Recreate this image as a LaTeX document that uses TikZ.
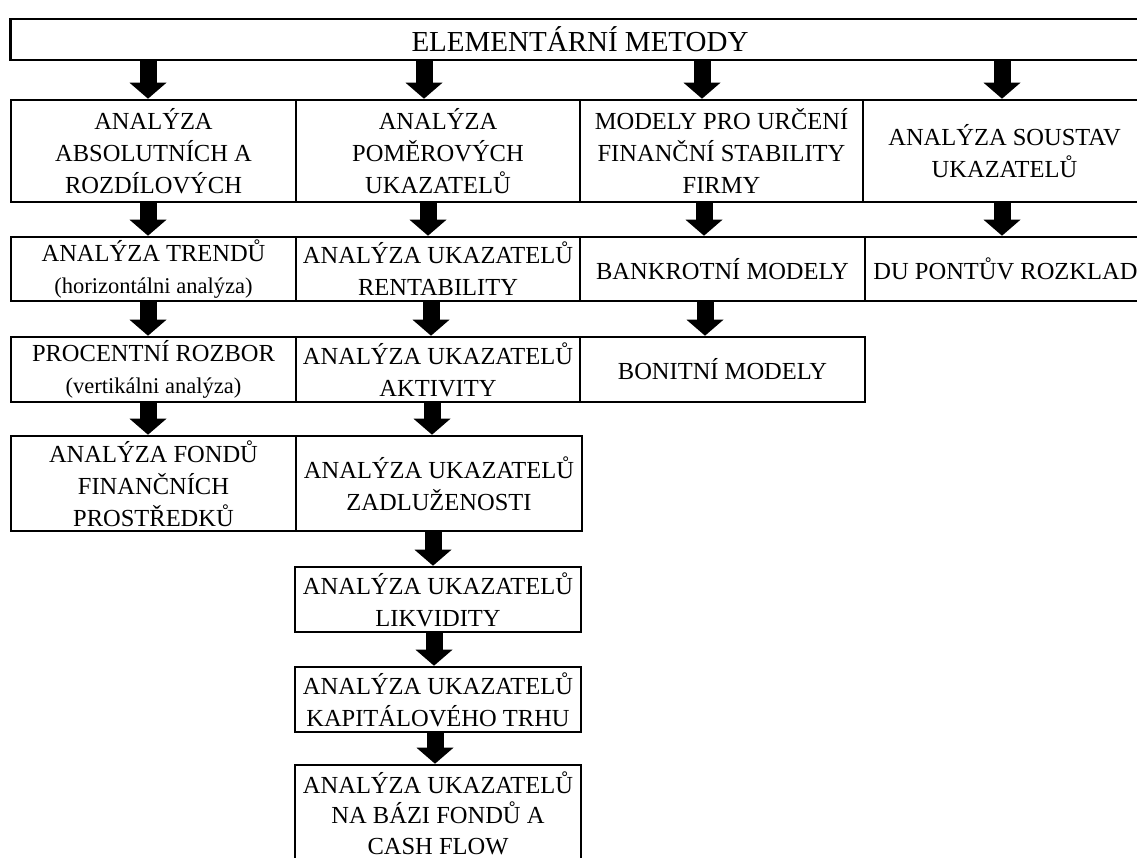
\documentclass[tikz,border=0pt]{standalone}
\usepackage{fontspec}
\setmainfont{Liberation Serif}
\usetikzlibrary{arrows.meta}

\tikzset{
  box/.style={draw=black, line width=2.6pt, fill=white, rectangle, align=center,
              inner sep=0pt, font=\fontsize{24.5}{32}\selectfont},
  titlebox/.style={box, font=\fontsize{29}{34}\selectfont},
  bigarrow/.style={line width=17pt, draw=black,
                   -{Triangle[width=37pt, length=16pt, line width=0pt]}},
}
\newcommand\sub[1]{{\fontsize{22.5}{32}\selectfont #1}}

\begin{document}
\begin{tikzpicture}[x=1pt, y=-1pt]
\useasboundingbox (0,0) rectangle (1137,858);
\clip (0,0) rectangle (1137,858);
\fill[white] (0,0) rectangle (1137,858);

% header
\node[titlebox, minimum width=1139pt, minimum height=41pt] (top) at (580,39.5) {ELEMENTÁRNÍ METODY};

% first level
\node[box, minimum width=285pt, minimum height=102pt] (a1) at (153.5,151) {ANALÝZA\\ABSOLUTNÍCH A\\ROZDÍLOVÝCH};
\node[box, minimum width=284pt, minimum height=102pt] (b1) at (438,151) {ANALÝZA\\POMĚROVÝCH\\UKAZATELŮ};
\node[box, minimum width=283pt, minimum height=102pt] (c1) at (721.5,151) {MODELY PRO URČENÍ\\FINANČNÍ STABILITY\\FIRMY};
\node[box, minimum width=283pt, minimum height=102pt] (d1) at (1004.5,151) {ANALÝZA SOUSTAV\\UKAZATELŮ};

% second level
\node[box, minimum width=285pt, minimum height=64pt] (a2) at (153.5,269) {ANALÝZA TRENDŮ\\\sub{(horizontálni analýza)}};
\node[box, minimum width=284pt, minimum height=64pt] (b2) at (438,269) {ANALÝZA UKAZATELŮ\\RENTABILITY};
\node[box, minimum width=285pt, minimum height=64pt] (c2) at (722.5,269) {BANKROTNÍ MODELY};
\node[box, minimum width=281pt, minimum height=64pt] (d2) at (1005.5,269) {DU PONTŮV ROZKLAD};

% third level
\node[box, minimum width=285pt, minimum height=65pt] (a3) at (153.5,369.5) {PROCENTNÍ ROZBOR\\\sub{(vertikálni analýza)}};
\node[box, minimum width=284pt, minimum height=65pt] (b3) at (438,369.5) {ANALÝZA UKAZATELŮ\\AKTIVITY};
\node[box, minimum width=285pt, minimum height=65pt] (c3) at (722.5,369.5) {BONITNÍ MODELY};

% fourth level
\node[box, minimum width=285pt, minimum height=95pt] (a4) at (153.5,483.5) {ANALÝZA FONDŮ\\FINANČNÍCH\\PROSTŘEDKŮ};
\node[box, minimum width=286pt, minimum height=95pt] (b4) at (439,483.5) {ANALÝZA UKAZATELŮ\\ZADLUŽENOSTI};

% remaining ratio groups
\node[box, minimum width=286pt, minimum height=65pt] (b5) at (438,599.5) {ANALÝZA UKAZATELŮ\\LIKVIDITY};
\node[box, minimum width=286pt, minimum height=65pt] (b6) at (438,699.5) {ANALÝZA UKAZATELŮ\\KAPITÁLOVÉHO TRHU};
\node[box, minimum width=286pt, minimum height=96pt, font=\fontsize{24.5}{30.5}\selectfont]
  (b7) at (438,813) {ANALÝZA UKAZATELŮ\\NA BÁZI FONDŮ A\\CASH FLOW};

% arrow columns
\coordinate (ka) at (148,0);
\coordinate (kb0) at (424,0);
\coordinate (kb1) at (428,0);
\coordinate (kb2) at (431,0);
\coordinate (kb3) at (432,0);
\coordinate (kb4) at (433,0);
\coordinate (kb5) at (434,0);
\coordinate (kb6) at (435,0);
\coordinate (kc0) at (702,0);
\coordinate (kc1) at (704,0);
\coordinate (kc2) at (705,0);
\coordinate (kd) at (1002,0);

% arrows
\draw[bigarrow] (top.south -| ka) -- (a1.north -| ka);
\draw[bigarrow] (top.south -| kb0) -- (b1.north -| kb0);
\draw[bigarrow] (top.south -| kc0) -- (c1.north -| kc0);
\draw[bigarrow] (top.south -| kd) -- (d1.north -| kd);

\draw[bigarrow] (a1.south -| ka) -- (a2.north -| ka);
\draw[bigarrow] (a2.south -| ka) -- (a3.north -| ka);
\draw[bigarrow] (a3.south -| ka) -- (a4.north -| ka);

\draw[bigarrow] (b1.south -| kb1) -- (b2.north -| kb1);
\draw[bigarrow] (b2.south -| kb2) -- (b3.north -| kb2);
\draw[bigarrow] (b3.south -| kb3) -- (b4.north -| kb3);
\draw[bigarrow] (b4.south -| kb4) -- (b5.north -| kb4);
\draw[bigarrow] (b5.south -| kb5) -- (b6.north -| kb5);
\draw[bigarrow] (b6.south -| kb6) -- (b7.north -| kb6);

\draw[bigarrow] (c1.south -| kc1) -- (c2.north -| kc1);
\draw[bigarrow] (c2.south -| kc2) -- (c3.north -| kc2);

\draw[bigarrow] (d1.south -| kd) -- (d2.north -| kd);
\end{tikzpicture}
\end{document}
